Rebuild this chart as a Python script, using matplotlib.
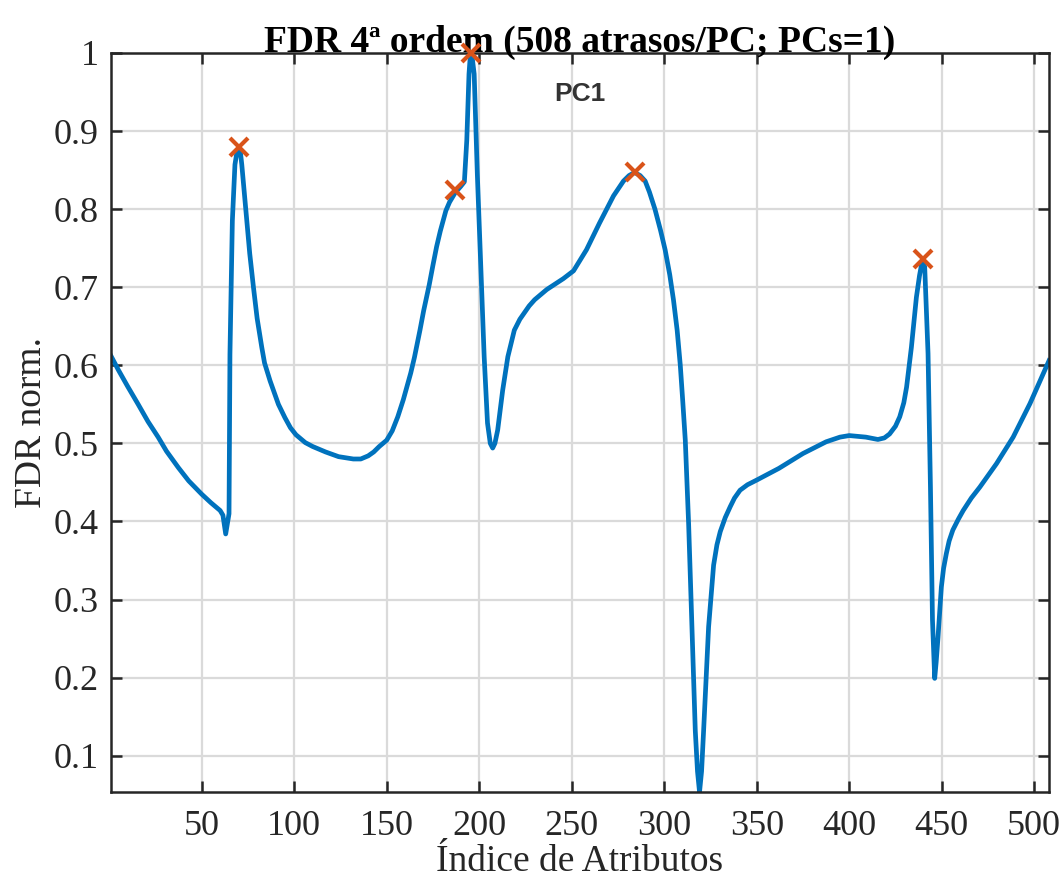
import matplotlib.pyplot as plt

# pontos (indice, FDR normalizado)
idx = [1, 5, 10, 15.7, 21, 26.5, 31, 37.4, 43, 50, 55, 60, 61.5, 63, 64.8, 65.3, 66.6, 68,
       69, 70, 71, 71.7, 74.4, 76, 78, 80, 82.5, 84, 87, 91.5, 95, 98, 101, 106, 110, 117,
       124, 132, 136, 140, 143, 146, 150, 153, 156, 159, 163, 165, 168, 170, 173, 175, 177,
       179, 182, 184, 187, 190, 192, 193.3, 194.5, 195, 195.6, 196.3, 197.3, 199, 201,
       202.7, 204.5, 206, 207.3, 208.5, 210, 212.7, 215.5, 219, 222, 227, 230, 236.5,
       245.5, 251, 258, 265, 272.6, 278, 281, 284, 287, 289.7, 292, 295, 298, 300.5, 303,
       305, 307, 308.7, 310, 311.4, 313.2, 315, 316.8, 318, 319.1, 320.2, 321.3, 324,
       326.7, 328.5, 330.3, 333, 335.7, 338, 341, 345, 350, 362, 375, 387.5, 395, 400,
       409, 415.5, 419, 421.8, 425, 427.3, 429.5, 431, 433.6, 436.3, 438, 439, 440,
       440.8, 442.6, 443.9, 445, 446.2, 447, 448, 449.8, 451, 452.5, 454, 456, 459,
       461.6, 466, 470.6, 479.6, 488.6, 497.7, 508]
fdr = [0.612, 0.594, 0.573, 0.550, 0.528, 0.508, 0.490, 0.469, 0.452, 0.435, 0.424,
       0.414, 0.408, 0.384, 0.41, 0.614, 0.785, 0.857, 0.872, 0.878, 0.872, 0.857, 0.785,
       0.743, 0.70, 0.66, 0.623, 0.603, 0.58, 0.55, 0.533, 0.520, 0.511, 0.501, 0.496,
       0.489, 0.483, 0.480, 0.480, 0.484, 0.489, 0.496, 0.504, 0.516, 0.534, 0.556, 0.590,
       0.610, 0.645, 0.670, 0.703, 0.728, 0.752, 0.772, 0.798, 0.809, 0.821, 0.829, 0.835,
       0.888, 0.973, 0.990, 0.999, 0.993, 0.973, 0.845, 0.717, 0.611, 0.526, 0.500,
       0.494, 0.500, 0.517, 0.568, 0.611, 0.645, 0.659, 0.676, 0.684, 0.697, 0.711,
       0.721, 0.748, 0.782, 0.817, 0.836, 0.843, 0.847, 0.843, 0.836, 0.822, 0.80, 0.773,
       0.748, 0.716, 0.684, 0.645, 0.60, 0.555, 0.504, 0.397, 0.265, 0.132, 0.080,
       0.0535, 0.080, 0.132, 0.265, 0.344, 0.370, 0.387, 0.405, 0.419, 0.430, 0.44, 0.447,
       0.453, 0.468, 0.487, 0.502, 0.508, 0.51, 0.508, 0.505, 0.507, 0.512, 0.522, 0.534,
       0.552, 0.572, 0.623, 0.687, 0.715, 0.728, 0.733, 0.726, 0.615, 0.444, 0.274,
       0.199, 0.220, 0.252, 0.316, 0.340, 0.359, 0.375, 0.389, 0.403, 0.414, 0.430,
       0.444, 0.474, 0.508, 0.551, 0.606]

# picos marcados
pk_idx = [70, 187, 195.5, 284, 440]
pk_fdr = [0.880, 0.825, 1.0, 0.847, 0.736]

xt = [50, 100, 150, 200, 250, 300, 350, 400, 450, 500]
yt = [0.1, 0.2, 0.3, 0.4, 0.5, 0.6, 0.7, 0.8, 0.9, 1.0]
ytl = ['0.1', '0.2', '0.3', '0.4', '0.5', '0.6', '0.7', '0.8', '0.9', '1']

plt.rcParams['font.family'] = ['Liberation Serif', 'DejaVu Serif']
fig = plt.figure(figsize=(10.62, 8.86), dpi=100)
ax = fig.add_axes([0.1045, 0.1061, 0.8833, 0.8341])

ax.plot(idx, fdr, color='#0072BD', lw=3.4, solid_joinstyle='round')
ax.plot(pk_idx, pk_fdr, 'x', color='#D95319', ms=13, mew=3, clip_on=False, zorder=5)

ax.set_xlim(1, 508)
ax.set_ylim(0.0535, 1)
ax.set_xticks(xt)
ax.set_yticks(yt)
ax.set_yticklabels(ytl)
ax.grid(True, color='#dadada', lw=1.6)
ax.set_axisbelow(True)
ax.tick_params(direction='in', length=8, width=1.8, top=True, right=True,
               labelsize=26, colors='#262626')
ax.tick_params(axis='x', pad=13)
ax.tick_params(axis='y', pad=9)
for s in ax.spines.values():
    s.set_linewidth(1.8)
    s.set_color('#262626')

ax.set_xlabel('Índice de Atributos', fontsize=27, color='#262626', labelpad=1)
ax.set_ylabel('FDR norm.', fontsize=27, color='#262626', labelpad=3)
ax.set_title('FDR 4ª ordem (508 atrasos/PC; PCs=1)', fontsize=27, fontweight='bold', pad=1)
ax.text(0.5, 0.944, 'PC1', transform=ax.transAxes, ha='center', va='center',
        fontsize=19, fontweight='bold', color='#333333', family='Liberation Sans')

fig.savefig('out.png', dpi=100)
